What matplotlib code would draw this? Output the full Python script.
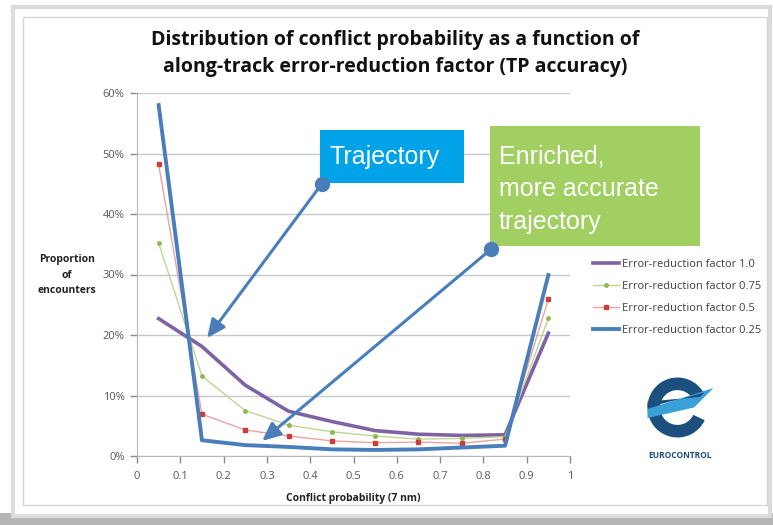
import numpy as np
import matplotlib.pyplot as plt
from matplotlib.patches import Rectangle, Wedge, Polygon

plt.rcParams['font.family'] = ['Open Sans', 'DejaVu Sans']

# 横轴：冲突概率区间中点
x = [0.05, 0.15, 0.25, 0.35, 0.45, 0.55, 0.65, 0.75, 0.85, 0.95]

# 各误差缩减因子下的遭遇比例 (%)
f100 = [22.7, 18.1, 11.7, 7.4, 5.7, 4.2, 3.6, 3.4, 3.5, 20.3]
f075 = [35.2, 13.2, 7.5, 5.1, 4.0, 3.3, 2.8, 2.9, 3.2, 22.8]
f050 = [48.2, 6.9, 4.3, 3.3, 2.5, 2.2, 2.3, 2.1, 2.8, 25.9]
f025 = [58.0, 2.6, 1.8, 1.5, 1.1, 1.0, 1.1, 1.4, 1.7, 29.9]

labels = ['Error-reduction factor 1.0', 'Error-reduction factor 0.75',
          'Error-reduction factor 0.5', 'Error-reduction factor 0.25']

W, H = 773, 525
fig = plt.figure(figsize=(W / 100, H / 100), dpi=100)
fig.patch.set_facecolor('white')


def fx(px):
    return px / W


def fy(py):
    return 1 - py / H


# 幻灯片边框和阴影
fig.patches.append(Rectangle((fx(0), fy(525)), 1, 12 / H, transform=fig.transFigure,
                             facecolor='#b5b5b5', edgecolor='none', zorder=-2))
fig.patches.append(Rectangle((fx(13), fy(516)), fx(757), 509 / H, transform=fig.transFigure,
                             facecolor='white', edgecolor='#dcdcdc', lw=3, zorder=-1))
fig.patches.append(Rectangle((fx(23), fy(505)), fx(744), 488 / H, transform=fig.transFigure,
                             facecolor='none', edgecolor='#d6d6d6', lw=1, zorder=-1))

ax = fig.add_axes([fx(137), fy(456), fx(570 - 137), (456 - 93) / H])
ax.set_facecolor('none')

ax.plot(x, f100, color='#7e62a3', lw=2.6, label=labels[0], zorder=3)
ax.plot(x, f075, color='#bcd78f', lw=1.0, marker='o', ms=2.5,
        mfc='#8fb653', mec='#8fb653', label=labels[1], zorder=3)
ax.plot(x, f050, color='#eaa3a1', lw=1.0, marker='s', ms=2.5,
        mfc='#c7403c', mec='#c7403c', label=labels[2], zorder=3)
ax.plot(x, f025, color='#4a7ebb', lw=2.8, label=labels[3], zorder=3)

ax.set_xlim(0, 1)
ax.set_ylim(0, 60)
ax.set_xticks(np.arange(0, 1.01, 0.1))
ax.set_xticklabels(['0', '0.1', '0.2', '0.3', '0.4', '0.5', '0.6', '0.7', '0.8', '0.9', '1'])
ax.set_yticks(np.arange(0, 61, 10))
ax.set_yticklabels([f'{v}%' for v in range(0, 61, 10)])
ax.tick_params(labelsize=8, colors='#8a8a8a', labelcolor='#595959', length=5, width=1)
ax.tick_params(axis='x', direction='out', pad=6)
ax.tick_params(axis='y', direction='out', pad=4)
ax.grid(axis='y', color='#c8c8c8', lw=1)
ax.set_axisbelow(True)
for s in ['top', 'right']:
    ax.spines[s].set_visible(False)
for s in ['left', 'bottom']:
    ax.spines[s].set_color('#b8b8b8')

ax.set_xlabel('Conflict probability (7 nm)', fontsize=7.5, fontweight='bold',
              color='#222222', labelpad=8)
fig.text(fx(67), fy(275), 'Proportion\nof\nencounters', fontsize=7.5, fontweight='bold',
         color='#222222', ha='center', va='center', linespacing=1.6)

leg = ax.legend(loc='upper left', bbox_to_anchor=(fx(583), fy(249)),
                bbox_transform=fig.transFigure, frameon=False, fontsize=8,
                handlelength=2.3, labelspacing=1.0, handletextpad=0.3)
for t in leg.get_texts():
    t.set_color('#404040')

# 标题
fig.text(fx(395), fy(40), 'Distribution of conflict probability as a function of',
         fontsize=14, fontweight='bold', ha='center', va='center', color='#111111')
fig.text(fx(395), fy(67), 'along-track error-reduction factor (TP accuracy)',
         fontsize=14, fontweight='bold', ha='center', va='center', color='#111111')

# 标注框（画在坐标轴内，网格之上、箭头之下）
ax.add_patch(Rectangle((fx(320), fy(183)), fx(144), 53 / H, transform=fig.transFigure,
                       facecolor='#00a2e8', edgecolor='none', zorder=5, clip_on=False))
ax.text(fx(330), fy(157), 'Trajectory', fontsize=18, color='white',
        family=['Liberation Sans', 'DejaVu Sans'], ha='left', va='center', zorder=6,
        transform=fig.transFigure)
ax.add_patch(Rectangle((fx(490), fy(246)), fx(210), 120 / H, transform=fig.transFigure,
                       facecolor='#a2cf62', edgecolor='none', zorder=5, clip_on=False))
ax.text(fx(499), fy(189), 'Enriched,\nmore accurate\ntrajectory', fontsize=18, color='white',
        family=['Liberation Sans', 'DejaVu Sans'], ha='left', va='center',
        linespacing=1.45, zorder=6, transform=fig.transFigure)

# 箭头
arrow_color = '#4a7ebb'
for (x0, y0), (x1, y1) in [((0.427, 45.0), (0.162, 19.5)), ((0.818, 34.2), (0.289, 2.5))]:
    ax.annotate('', xy=(x1, y1), xytext=(x0, y0),
                arrowprops=dict(arrowstyle='-|>,head_length=1.1,head_width=0.5',
                                color=arrow_color, lw=2.2, shrinkA=0, shrinkB=0),
                zorder=7, annotation_clip=False)
    ax.plot([x0], [y0], 'o', ms=10, color=arrow_color, zorder=8, clip_on=False)

# EUROCONTROL 标志（近似）
lg = fig.add_axes([fx(640), fy(445), fx(75), 75 / H])
lg.set_xlim(-1.25, 1.25)
lg.set_ylim(-1.25, 1.25)
lg.set_aspect('equal')
lg.axis('off')
navy = '#1b4f7e'
lg.add_patch(Wedge((0, 0), 1.0, 30, 335, width=0.42, facecolor=navy, edgecolor='none'))
lg.add_patch(Polygon([(-1.0, -0.05), (1.2, 0.65), (0.55, 0.0), (-1.0, -0.35)],
                     closed=True, facecolor='#3aa0d8', edgecolor='none'))
lg.add_patch(Polygon([(-1.0, 0.2), (0.75, 0.35), (0.9, 0.5), (-1.0, 0.0)],
                     closed=True, facecolor=navy, edgecolor='none'))
fig.text(fx(680), fy(456), 'EUROCONTROL', fontsize=6, fontweight='bold', color=navy,
         ha='center', va='center')

fig.savefig('out.png', dpi=100)
